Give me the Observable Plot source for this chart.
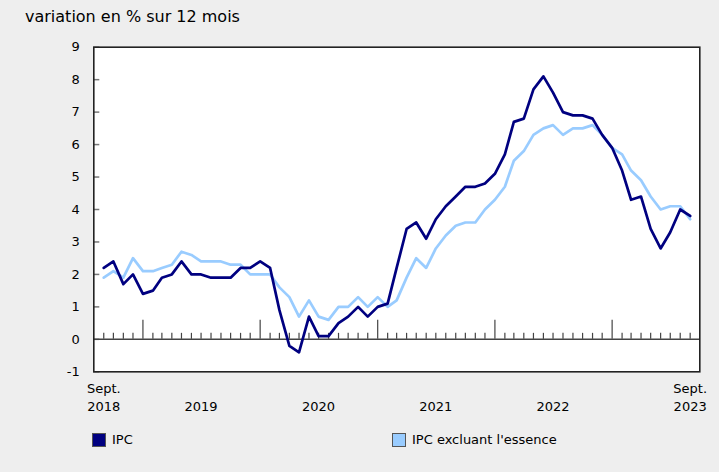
<!DOCTYPE html>
<html>
<head>
<meta charset="utf-8">
<script src="https://cdn.jsdelivr.net/npm/d3@7"></script>
<script src="https://cdn.jsdelivr.net/npm/@observablehq/plot@0.6"></script>
<style>
  html, body { margin: 0; padding: 0; background: #eeeeee; width: 719px; height: 472px; overflow: hidden; font-family: "DejaVu Sans", sans-serif; }
  #title { position: absolute; left: 25px; top: 7px; font-size: 16px; line-height: 20px; color: #000; white-space: nowrap; }
  #chart { position: absolute; left: 0; top: 36px; }
  .sw { position: absolute; top: 433px; width: 12px; height: 12px; border: 1px solid #555; }
  .lt { position: absolute; top: 432px; font-size: 13px; line-height: 16px; color: #000; white-space: nowrap; }
</style>
</head>
<body>
<div id="title">variation en % sur 12 mois</div>
<div id="chart"></div>
<div class="sw" id="sw1"></div><div class="lt" id="lt1"></div>
<div class="sw" id="sw2"></div><div class="lt" id="lt2"></div>
<script>
// Series (12-month % change), monthly Sept. 2018 - Sept. 2023
const ipc = [2.2,2.4,1.7,2.0,
  1.4,1.5,1.9,2.0,2.4,2.0,2.0,1.9,1.9,1.9,2.2,2.2,
  2.4,2.2,0.9,-0.2,-0.4,0.7,0.1,0.1,0.5,0.7,1.0,0.7,
  1.0,1.1,2.2,3.4,3.6,3.1,3.7,4.1,4.4,4.7,4.7,4.8,
  5.1,5.7,6.7,6.8,7.7,8.1,7.6,7.0,6.9,6.9,6.8,6.3,
  5.9,5.2,4.3,4.4,3.4,2.8,3.3,4.0,3.8];
const ipcSansEssence = [1.9,2.1,1.9,2.5,
  2.1,2.1,2.2,2.3,2.7,2.6,2.4,2.4,2.4,2.3,2.3,2.0,
  2.0,2.0,1.6,1.3,0.7,1.2,0.7,0.6,1.0,1.0,1.3,1.0,
  1.3,1.0,1.2,1.9,2.5,2.2,2.8,3.2,3.5,3.6,3.6,4.0,
  4.3,4.7,5.5,5.8,6.3,6.5,6.6,6.3,6.5,6.5,6.6,6.3,
  5.9,5.7,5.2,4.9,4.4,4.0,4.1,4.1,3.7];
const seriesNames = ["IPC", "IPC excluant l'essence"];
const seriesColors = ["#000080", "#99ccff"];
const yTicks = [-1,0,1,2,3,4,5,6,7,8,9];
const monthLabelText = ["Sept.", "Sept."];
const monthLabelDates = ["2018-09-01", "2023-09-01"];
const yearLabelText = ["2018","2019","2020","2021","2022","2023"];
const yearLabelDates = ["2018-09-01","2019-07-01","2020-07-01","2021-07-01","2022-07-01","2023-09-01"];

const months = d3.utcMonth.range(new Date(Date.UTC(2018,8,1)), new Date(Date.UTC(2023,9,1)));
const data = months.map((d, i) => ({date: d, ipc: ipc[i], exg: ipcSansEssence[i]}));
const xmin = new Date(Date.UTC(2018,7,1));
const xmax = new Date(Date.UTC(2023,9,1));
const monthLabels = monthLabelText.map((t, i) => ({date: new Date(monthLabelDates[i]), text: t}));
const yearLabels = yearLabelText.map((t, i) => ({date: new Date(yearLabelDates[i]), text: t}));

const chart = Plot.plot({
  width: 719,
  height: 390,
  marginTop: 10.7,
  marginBottom: 54.7,
  marginLeft: 93.3,
  marginRight: 19.7,
  style: {background: "transparent", fontFamily: "DejaVu Sans, sans-serif", fontSize: "13px", color: "#000", overflow: "visible"},
  x: {type: "utc", domain: [xmin, xmax], axis: null},
  y: {domain: [-1, 9]},
  marks: [
    Plot.frame({fill: "white", stroke: null}),
    Plot.ruleY(yTicks, {y: d => d, x1: () => xmin, x2: () => xmin, insetRight: -6, stroke: "#777", strokeWidth: 1.5}),
    Plot.axisY(yTicks, {tickSize: 0, tickPadding: 14, fontSize: 13, fill: "#000", label: null, tickFormat: d => String(d)}),
    Plot.ruleY([0], {stroke: "#444", strokeWidth: 1.5}),
    Plot.ruleX(months.filter(d => d.getUTCMonth() !== 0), {x: d => d, y1: () => 0, y2: () => 0, insetTop: -6, stroke: "#444", strokeWidth: 1.2}),
    Plot.ruleX(months.filter(d => d.getUTCMonth() === 0), {x: d => d, y1: () => 0, y2: () => 0, insetTop: -19, stroke: "#444", strokeWidth: 1.2}),
    Plot.line(data, {x: "date", y: "exg", stroke: seriesColors[1], strokeWidth: 2.7}),
    Plot.line(data, {x: "date", y: "ipc", stroke: seriesColors[0], strokeWidth: 2.7}),
    Plot.text(monthLabels, {x: "date", text: "text", frameAnchor: "bottom", dy: 21.6, fontSize: 13, fill: "#000"}),
    Plot.text(yearLabels, {x: "date", text: "text", frameAnchor: "bottom", dy: 39.6, fontSize: 13, fill: "#000"}),
    Plot.frame({stroke: "#222", strokeWidth: 1.6})
  ]
});
document.getElementById("chart").appendChild(chart);

const sw1 = document.getElementById("sw1"), sw2 = document.getElementById("sw2");
sw1.style.left = "92px"; sw1.style.background = seriesColors[0];
sw2.style.left = "392px"; sw2.style.background = seriesColors[1];
const lt1 = document.getElementById("lt1"), lt2 = document.getElementById("lt2");
lt1.style.left = "112px"; lt1.textContent = seriesNames[0];
lt2.style.left = "412px"; lt2.textContent = seriesNames[1];
</script>
</body>
</html>
